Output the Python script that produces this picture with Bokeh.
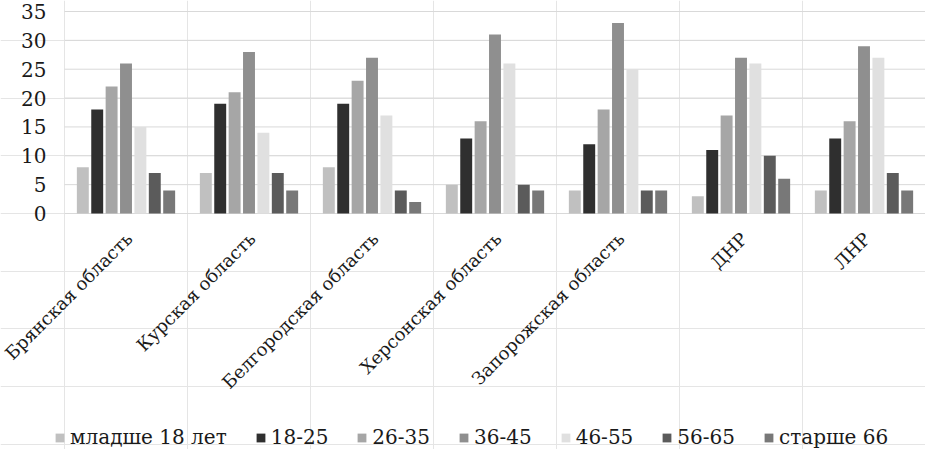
import math
from bokeh.plotting import figure
from bokeh.models import ColumnDataSource, Legend, LegendItem, Range1d
from bokeh.core.properties import value
from bokeh.transform import dodge
from bokeh.embed import file_html
from bokeh.resources import INLINE

regions = ["Брянская область", "Курская область", "Белгородская область",
           "Херсонская область", "Запорожская область", "ДНР", "ЛНР"]
age_groups = ["младше 18 лет", "18-25", "26-35", "36-45", "46-55", "56-65", "старше 66"]
under18 = [8, 7, 8, 5, 4, 3, 4]
a18_25 = [18, 19, 19, 13, 12, 11, 13]
a26_35 = [22, 21, 23, 16, 18, 17, 16]
a36_45 = [26, 28, 27, 31, 33, 27, 29]
a46_55 = [15, 14, 17, 26, 25, 26, 27]
a56_65 = [7, 7, 4, 5, 4, 10, 7]
over66 = [4, 4, 2, 4, 4, 6, 4]
y_ticks = [0, 5, 10, 15, 20, 25, 30, 35]

series = [under18, a18_25, a26_35, a36_45, a46_55, a56_65, over66]
colors = ["#c0c0c0", "#2f2f2f", "#a6a6a6", "#8f8f8f", "#e0e0e0", "#5b5b5b", "#787878"]
keys = ["s0", "s1", "s2", "s3", "s4", "s5", "s6"]

n = len(regions)
data = {"region": regions, "xc": [i + 0.5 for i in range(n)], "base": [0] * n}
for k, s in zip(keys, series):
    data[k] = s
src = ColumnDataSource(data)

grid_src = ColumnDataSource(dict(y=y_ticks, x0=[0] * len(y_ticks), x1=[n] * len(y_ticks),
                                 lab=[str(t) for t in y_ticks]))

W, H = 925, 449
cat_w = 861 / n
pad = 64 / cat_w
ppu = 202 / 35.0
y_max = 35 + 11 / ppu
y_min = 35 - (H - 11) / ppu

p = figure(x_range=Range1d(-pad, n), y_range=Range1d(y_min, y_max),
           frame_width=W, frame_height=H, x_axis_location=None, y_axis_location=None,
           output_backend="svg", toolbar_location=None,
           min_border_left=0, min_border_right=0, min_border_top=0, min_border_bottom=0)
p.outline_line_color = None

# horizontal gridlines and y tick labels
p.segment(x0="x0", y0="y", x1="x1", y1="y", source=grid_src,
          line_color="#d9d9d9", line_width=1)
p.text(x="x0", y="y", text="lab", source=grid_src, text_align="right",
       text_baseline="middle", x_offset=-18, text_font=value("DejaVu Serif"),
       text_font_size=value("20px"), text_color="#1a1a1a")

step = 0.117
width = 0.097
renderers = []
for i, (k, c) in enumerate(zip(keys, colors)):
    off = (i - 3) * step
    r = p.vbar(x=dodge("xc", off), top=k, bottom="base", width=width,
               source=src, fill_color=c, line_color=None)
    renderers.append(r)

# category labels, rotated 45 degrees under each group
p.text(x="xc", y="base", text="region", source=src, angle=math.pi / 4,
       text_align="right", text_baseline="middle", x_offset=3, y_offset=22,
       text_font=value("DejaVu Serif"), text_font_size=value("18px"), text_color="#1a1a1a")

items = [LegendItem(label=a, renderers=[r]) for a, r in zip(age_groups, renderers)]
legend = Legend(items=items, orientation="horizontal", location=(54, 0),
                label_text_font="DejaVu Serif", label_text_font_size="20px",
                label_text_color="#1a1a1a", glyph_width=11, glyph_height=11,
                spacing=28, label_standoff=5, border_line_color=None,
                background_fill_alpha=0, margin=0, padding=0)
p.add_layout(legend, "center")

open("out.html", "w").write(file_html(p, INLINE))
